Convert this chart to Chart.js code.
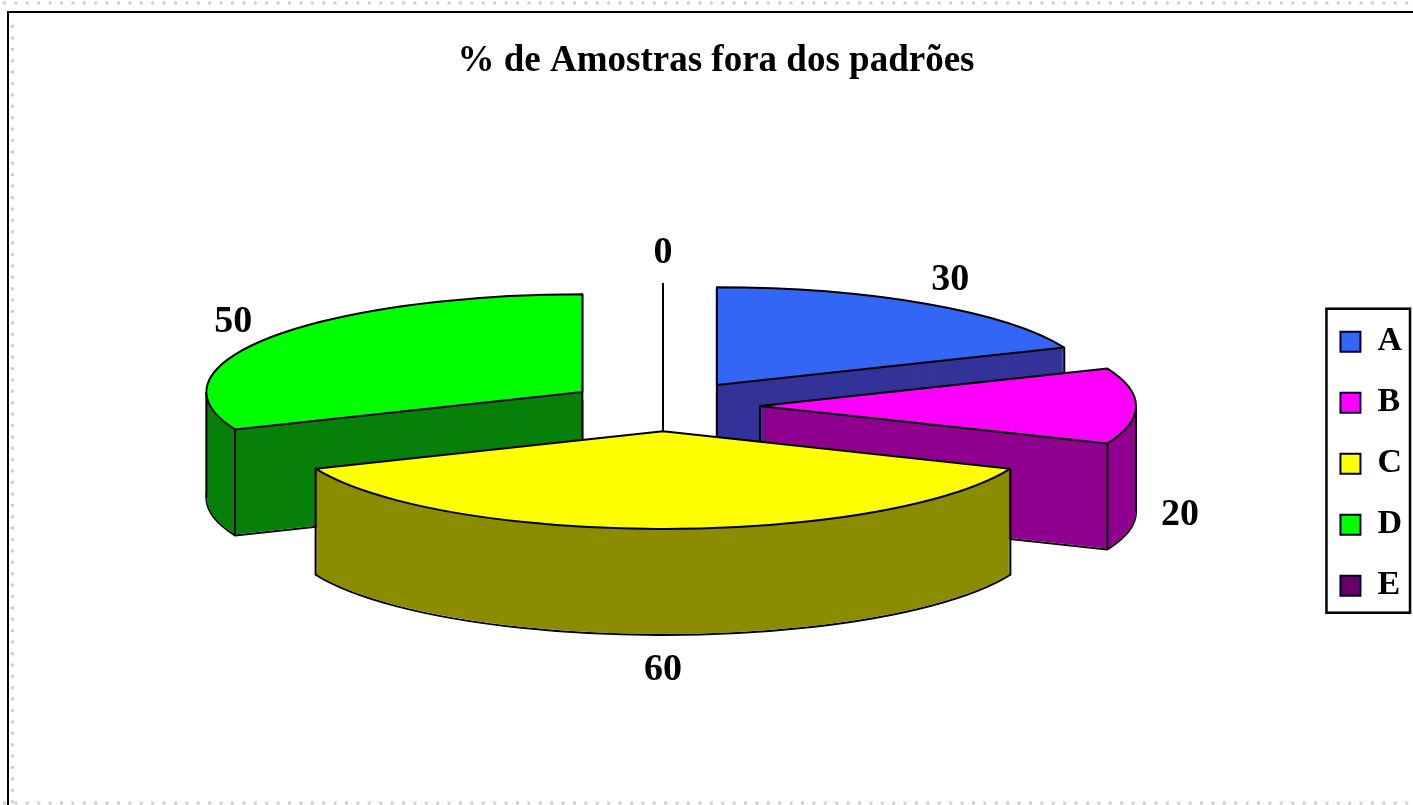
<!DOCTYPE html>
<html>
<head>
<meta charset="utf-8">
<script src="https://cdn.jsdelivr.net/npm/chart.js@4/dist/chart.umd.min.js"></script>
<style>
html,body{margin:0;padding:0;background:#fff;overflow:hidden}
#wrap{width:1413px;height:805px}
</style>
</head>
<body>
<div id="wrap"><canvas id="pie"></canvas></div>
<script>
const categories = ['A','B','C','D','E'];
const values = [30,20,60,50,0];
const topColors = ['#3366f5','#ff00ff','#ffff00','#00ff00','#660066'];
const sideColors = ['#333399','#900090','#8c8c00','#07800a','#330033'];
const titleText = '% de Amostras fora dos padrões';

/* fake 3D: squash the pie, extrude it, pull slices out along their mid angle */
const SQUASH = 0.26, DEPTH = 106, EXPLODE = 97, RADIUS = 376;
const PIE_X = 663, PIE_Y = 406;
const drawOrder = [4,0,3,1,2];
const FONT = "bold 38px 'Liberation Serif'";

function midAngle(arc){ return (arc.startAngle+arc.endAngle)/2; }
function apex(arc){
  const m = midAngle(arc);
  return {x:PIE_X+Math.cos(m)*EXPLODE, y:PIE_Y+Math.sin(m)*EXPLODE*SQUASH};
}
function outlinePath(ctx,arc,dy){
  const p = apex(arc);
  ctx.beginPath();
  ctx.moveTo(p.x,p.y+dy);
  ctx.ellipse(p.x,p.y+dy,RADIUS,RADIUS*SQUASH,0,arc.startAngle,arc.endAngle);
  ctx.closePath();
}
function drawLayer(ctx,arc,dy,color){
  const p = apex(arc);
  ctx.save();
  ctx.translate(p.x,p.y+dy);
  ctx.scale(1,SQUASH);
  ctx.translate(-arc.x,-arc.y);
  arc.options.backgroundColor = color;
  arc.draw(ctx);
  ctx.restore();
}
function edgeAngles(arc){
  const out = [arc.startAngle,arc.endAngle];
  [0,Math.PI,2*Math.PI].forEach(a=>{ if(a>arc.startAngle && a<arc.endAngle) out.push(a); });
  return out;
}

const pie3d = {
  id:'pie3d',
  beforeDraw(chart){
    const ctx = chart.ctx;
    ctx.save();
    // sheet frame and the dotted edge of the scan
    ctx.strokeStyle = '#000'; ctx.lineWidth = 2;
    ctx.beginPath(); ctx.moveTo(8,805); ctx.lineTo(8,12); ctx.lineTo(1413,12); ctx.stroke();
    ctx.strokeStyle = '#cfcfcf'; ctx.lineWidth = 3; ctx.setLineDash([3,8.4]);
    ctx.beginPath(); ctx.moveTo(3,3); ctx.lineTo(1413,3); ctx.stroke();
    ctx.beginPath(); ctx.moveTo(3,803); ctx.lineTo(1413,803); ctx.stroke();
    ctx.beginPath(); ctx.moveTo(12.5,25); ctx.lineTo(12.5,805); ctx.stroke();
    ctx.restore();
  },
  beforeDatasetsDraw(chart){
    const ctx = chart.ctx, arcs = chart.getDatasetMeta(0).data;
    drawOrder.forEach(i=>{
      const arc = arcs[i];
      const p = apex(arc);
      ctx.save();
      ctx.strokeStyle = '#000'; ctx.lineWidth = 2; ctx.lineJoin = 'round';
      if(values[i]===0){
        // empty slice: only its edge line is left
        ctx.beginPath();
        ctx.moveTo(p.x,p.y+DEPTH);
        ctx.lineTo(p.x,p.y);
        ctx.lineTo(p.x+Math.cos(arc.startAngle)*RADIUS,p.y+Math.sin(arc.startAngle)*RADIUS*SQUASH);
        ctx.stroke();
        ctx.restore();
        return;
      }
      outlinePath(ctx,arc,DEPTH); ctx.stroke();
      for(let d=DEPTH-1;d>0;d--) drawLayer(ctx,arc,d,sideColors[i]);
      ctx.beginPath();
      // the inner corner is hidden on a slice that faces straight at the viewer
      if(!(arc.startAngle<Math.PI/2 && arc.endAngle>Math.PI/2)){
        ctx.moveTo(p.x,p.y); ctx.lineTo(p.x,p.y+DEPTH);
      }
      edgeAngles(arc).forEach(a=>{
        const x = p.x+Math.cos(a)*RADIUS, y = p.y+Math.sin(a)*RADIUS*SQUASH;
        ctx.moveTo(x,y); ctx.lineTo(x,y+DEPTH);
      });
      ctx.stroke();
      drawLayer(ctx,arc,0,topColors[i]);
      outlinePath(ctx,arc,0); ctx.stroke();
      ctx.restore();
    });
    return false;
  },
  afterDraw(chart){
    const ctx = chart.ctx, arcs = chart.getDatasetMeta(0).data, lg = chart.legend;
    ctx.save();
    ctx.fillStyle = '#000'; ctx.font = FONT;
    ctx.textAlign = 'center'; ctx.textBaseline = 'middle';
    arcs.forEach((arc,i)=>{
      const m = midAngle(arc), p = apex(arc), s = Math.sin(m);
      const x = p.x+Math.cos(m)*420;
      const y = p.y+s*420*SQUASH+(s>=-0.001?DEPTH:0)+21*s+3;
      ctx.fillText(String(values[i]),x,y);
    });
    // legend frame hugs the items, the plugin's box is wider and full height
    const hb = lg.legendHitBoxes, first = hb[0], last = hb[hb.length-1];
    const top = first.top+first.height/2-33, bottom = last.top+last.height/2+27;
    ctx.strokeStyle = '#000'; ctx.lineWidth = 2.5;
    ctx.strokeRect(lg.left+13,top,lg.width-15,bottom-top);
    ctx.restore();
  }
};

new Chart(document.getElementById('pie'),{
  type:'pie',
  data:{labels:categories,datasets:[{data:values,backgroundColor:topColors.slice(),borderWidth:0,hoverOffset:0}]},
  options:{
    responsive:true,maintainAspectRatio:false,animation:false,
    radius:RADIUS,
    layout:{padding:{left:20,right:1,top:0,bottom:0}},
    plugins:{
      tooltip:{enabled:false},
      title:{display:true,text:titleText,color:'#000',
        font:{family:'Liberation Serif',size:37,weight:'bold'},
        padding:{top:39,bottom:39}},
      legend:{position:'right',fullSize:false,
        labels:{boxWidth:20,boxHeight:20,padding:27,color:'#000',
          font:{family:'Liberation Serif',size:34,weight:'bold'},
          generateLabels(chart){
            return categories.map((c,i)=>({text:c,fillStyle:topColors[i],strokeStyle:'#000033',lineWidth:2,index:i,hidden:false}));
          }}}
    }
  },
  plugins:[pie3d]
});
</script>
</body>
</html>
